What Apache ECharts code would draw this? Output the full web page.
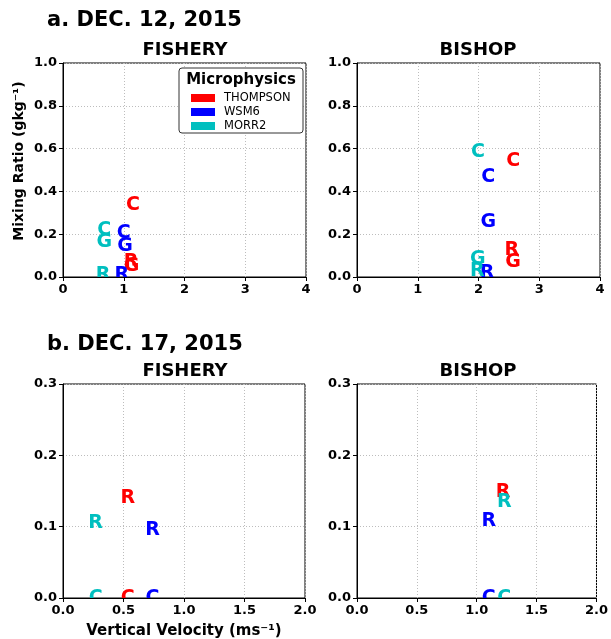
<!DOCTYPE html>
<html>
<head>
<meta charset="utf-8">
<script src="https://cdn.jsdelivr.net/npm/echarts@6/dist/echarts.min.js"></script>
<style>
  html, body { margin: 0; padding: 0; background: #fff; }
  #chart { width: 611px; height: 639px; }
</style>
</head>
<body>
<div id="chart"></div>
<script>
// Microphysics schemes and their colours
const schemes = ['THOMPSON', 'WSM6', 'MORR2'];
const schemeColors = ['#ff0000', '#0000ff', '#00bfbf'];

// Each point: [vertical velocity (m/s), mixing ratio (g/kg), hydrometeor letter]
// C = cloud, G = graupel, R = rain

// a. DEC. 12, 2015 — FISHERY
const fishery12Thompson = [[1.15, 0.335, 'C'], [1.12, 0.07, 'R'], [1.13, 0.05, 'G']];
const fishery12Wsm6 = [[1.0, 0.205, 'C'], [1.02, 0.145, 'G'], [0.97, 0.01, 'R']];
const fishery12Morr2 = [[0.68, 0.22, 'C'], [0.68, 0.165, 'G'], [0.66, 0.01, 'R']];

// a. DEC. 12, 2015 — BISHOP
const bishop12Thompson = [[2.57, 0.54, 'C'], [2.55, 0.125, 'R'], [2.57, 0.07, 'G']];
const bishop12Wsm6 = [[2.16, 0.467, 'C'], [2.16, 0.257, 'G'], [2.14, 0.02, 'R']];
const bishop12Morr2 = [[1.99, 0.584, 'C'], [1.99, 0.084, 'G'], [1.98, 0.03, 'R']];

// b. DEC. 17, 2015 — FISHERY
const fishery17Thompson = [[0.535, 0.14, 'R'], [0.535, 0.0, 'C']];
const fishery17Wsm6 = [[0.74, 0.095, 'R'], [0.74, 0.0, 'C']];
const fishery17Morr2 = [[0.27, 0.105, 'R'], [0.27, 0.0, 'C']];

// b. DEC. 17, 2015 — BISHOP
const bishop17Thompson = [[1.22, 0.149, 'R']];
const bishop17Wsm6 = [[1.10, 0.108, 'R'], [1.10, 0.0, 'C']];
const bishop17Morr2 = [[1.23, 0.135, 'R'], [1.23, 0.0, 'C']];

// Axis ranges and ticks
const dec12XTicks = { min: 0, max: 4, interval: 1 };
const dec12YTicks = { min: 0, max: 1.0, interval: 0.2 };
const dec17XTicks = { min: 0, max: 2.0, interval: 0.5 };
const dec17YTicks = { min: 0, max: 0.3, interval: 0.1 };

const panels = [
  [fishery12Thompson, fishery12Wsm6, fishery12Morr2],
  [bishop12Thompson, bishop12Wsm6, bishop12Morr2],
  [fishery17Thompson, fishery17Wsm6, fishery17Morr2],
  [bishop17Thompson, bishop17Wsm6, bishop17Morr2]
];

const FONT = 'DejaVu Sans';
const grids = [
  { left: 63, top: 63, width: 243, height: 214 },
  { left: 357, top: 63, width: 243, height: 214 },
  { left: 63, top: 384, width: 242, height: 214 },
  { left: 357, top: 384, width: 243, height: 214 }
];

function makeAxis(ticks, gridIndex, digits) {
  return {
    type: 'value',
    gridIndex: gridIndex,
    min: ticks.min, max: ticks.max, interval: ticks.interval,
    axisLine: { show: true, onZero: false, lineStyle: { color: '#000', width: 1 } },
    axisTick: { show: true, length: 4, lineStyle: { color: '#000' } },
    axisLabel: {
      color: '#000', fontFamily: FONT, fontWeight: 'bold', fontSize: 13, margin: 6,
      formatter: v => v.toFixed(digits)
    },
    splitLine: { show: true, lineStyle: { color: '#bdbdbd', type: [1, 2], width: 1 } }
  };
}

const xAxes = [
  makeAxis(dec12XTicks, 0, 0), makeAxis(dec12XTicks, 1, 0),
  makeAxis(dec17XTicks, 2, 1), makeAxis(dec17XTicks, 3, 1)
];
const yAxes = [
  makeAxis(dec12YTicks, 0, 1), makeAxis(dec12YTicks, 1, 1),
  makeAxis(dec17YTicks, 2, 1), makeAxis(dec17YTicks, 3, 1)
];

function letterSeries(points, schemeIdx, panelIdx) {
  const color = schemeColors[schemeIdx];
  return {
    type: 'custom',
    name: schemes[schemeIdx],
    xAxisIndex: panelIdx,
    yAxisIndex: panelIdx,
    clip: true,
    itemStyle: { color: color },
    data: points.map(p => [p[0], p[1]]),
    renderItem: function (params, api) {
      const pt = api.coord([api.value(0), api.value(1)]);
      return {
        type: 'text',
        x: pt[0],
        y: pt[1],
        style: {
          text: points[params.dataIndex][2],
          fill: color,
          font: 'bold 19px "DejaVu Sans"',
          align: 'center',
          verticalAlign: 'middle'
        }
      };
    }
  };
}

const series = [];
panels.forEach((panel, pi) => {
  panel.forEach((pts, si) => series.push(letterSeries(pts, si, pi)));
});

const option = {
  animation: false,
  backgroundColor: '#fff',
  grid: grids.map(g => Object.assign({ show: true, borderColor: '#000', borderWidth: 1, backgroundColor: 'transparent' }, g)),
  xAxis: xAxes,
  yAxis: yAxes,
  series: series,
  legend: {
    data: schemes.map(s => ({ name: s, icon: 'rect' })),
    orient: 'vertical',
    left: 186, top: 87,
    z: 20,
    itemWidth: 24, itemHeight: 8, itemGap: 2,
    selectedMode: false,
    textStyle: { color: '#000', fontFamily: FONT, fontSize: 11.5, padding: [0, 0, 0, 4] }
  },
  graphic: [
    {
      type: 'rect', z: 3,
      shape: { x: 179, y: 68, width: 124, height: 65, r: 3 },
      style: { fill: '#fff', stroke: '#333', lineWidth: 1 }
    },
    {
      type: 'text', z: 21, x: 241, y: 80,
      style: { text: 'Microphysics', font: 'bold 15px "DejaVu Sans"', fill: '#000', align: 'center', verticalAlign: 'middle' }
    },
    {
      type: 'text', x: 47, y: 21,
      style: { text: 'a. DEC. 12, 2015', font: 'bold 21px "DejaVu Sans"', fill: '#000', align: 'left', verticalAlign: 'middle' }
    },
    {
      type: 'text', x: 47, y: 345,
      style: { text: 'b. DEC. 17, 2015', font: 'bold 21px "DejaVu Sans"', fill: '#000', align: 'left', verticalAlign: 'middle' }
    },
    {
      type: 'text', x: 185, y: 50,
      style: { text: 'FISHERY', font: 'bold 18px "DejaVu Sans"', fill: '#000', align: 'center', verticalAlign: 'middle' }
    },
    {
      type: 'text', x: 478, y: 50,
      style: { text: 'BISHOP', font: 'bold 18px "DejaVu Sans"', fill: '#000', align: 'center', verticalAlign: 'middle' }
    },
    {
      type: 'text', x: 185, y: 371,
      style: { text: 'FISHERY', font: 'bold 18px "DejaVu Sans"', fill: '#000', align: 'center', verticalAlign: 'middle' }
    },
    {
      type: 'text', x: 478, y: 371,
      style: { text: 'BISHOP', font: 'bold 18px "DejaVu Sans"', fill: '#000', align: 'center', verticalAlign: 'middle' }
    },
    {
      type: 'text', x: 19, y: 161, rotation: Math.PI / 2,
      style: { text: 'Mixing Ratio (gkg\u207B\u00B9)', font: 'bold 14px "DejaVu Sans"', fill: '#000', align: 'center', verticalAlign: 'middle' }
    },
    {
      type: 'text', x: 184, y: 631,
      style: { text: 'Vertical Velocity (ms\u207B\u00B9)', font: 'bold 15px "DejaVu Sans"', fill: '#000', align: 'center', verticalAlign: 'middle' }
    }
  ]
};

const chart = echarts.init(document.getElementById('chart'), null, { renderer: 'canvas' });
chart.setOption(option);
</script>
</body>
</html>
